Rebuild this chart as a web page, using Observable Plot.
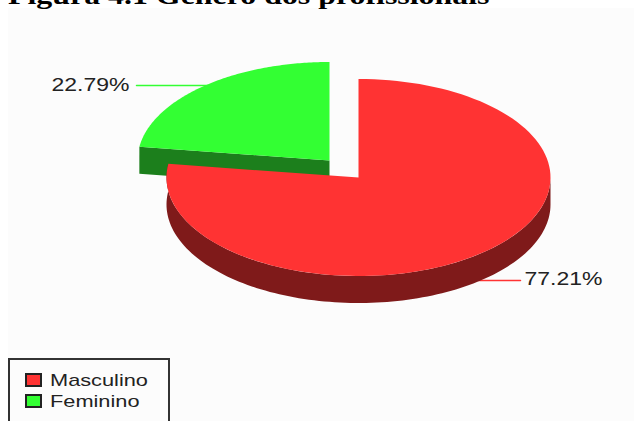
<!DOCTYPE html>
<html lang="pt">
<head>
<meta charset="utf-8">
<title>Gênero dos profissionais</title>
<script src="https://cdn.jsdelivr.net/npm/d3@7"></script>
<script src="https://cdn.jsdelivr.net/npm/@observablehq/plot@0.6"></script>
<style>
  html, body { margin: 0; padding: 0; width: 634px; height: 421px; overflow: hidden; background: #fff; }
  #title { position: absolute; left: 8px; top: -19px; margin: 0; white-space: nowrap;
           font: bold 25px/30px "Liberation Serif", serif; color: #000;
           transform: scaleX(1.275); transform-origin: left top; }
  #chart { position: absolute; left: 8px; top: 8px; width: 626px; height: 413px; background: #fcfcfc; }
  #legend { position: absolute; left: 8px; top: 358px; width: 158px; height: 70px; border: 2px solid #333;
            background: #fcfcfc; font: 17px "Liberation Sans", sans-serif; color: #222; }
  #legend div { position: absolute; left: 15px; white-space: nowrap; line-height: 20px; }
  #legend i { display: inline-block; width: 13px; height: 10px; border: 2px solid #222; margin-right: 8px; vertical-align: -1px; }
  #legend span { display: inline-block; transform: scaleX(1.28); transform-origin: left center; }
</style>
</head>
<body>
<div id="chart"></div>
<h1 id="title"></h1>
<div id="legend"></div>
<script>
const titleText = "Figura 4.1 Gênero dos profissionais";
const categories = ["Masculino", "Feminino"];
const shares = [77.21, 22.79];
const topColors = ["#ff3333", "#33ff33"];
const wallColors = ["#7f1a1a", "#1c7f1c"];
const shareLabels = ["77.21%", "22.79%"];

// Pie geometry, in plot pixels relative to the chart panel.
const W = 626, H = 413;
const rx = 192, ry = 98.5, depth = 27;
const center = [350, 169];
const explode = [-29, -17];   // offset of the pulled-out slice

// Slices run clockwise from twelve o'clock.
const angles = d3.cumsum(shares).map(v => v / 100 * 2 * Math.PI);
const starts = [0, angles[0]];
const ends = [angles[0], 2 * Math.PI];
const origins = [center, [center[0] + explode[0], center[1] + explode[1]]];

const rim = (i, a, dy = 0) => ({
  x: origins[i][0] + rx * Math.sin(a),
  y: origins[i][1] - ry * Math.cos(a) + dy
});
const arc = (i, a0, a1, dy = 0) => d3.range(0, 121).map(k => rim(i, a0 + (a1 - a0) * k / 120, dy));

const topFace = i => [{x: origins[i][0], y: origins[i][1]}, ...arc(i, starts[i], ends[i])];
// The outer wall shows on the lower half of the rim.
const outerWall = i => {
  const a0 = Math.max(starts[i], Math.PI / 2), a1 = Math.min(ends[i], 3 * Math.PI / 2 + 0.15);
  return [...arc(i, a0, a1), ...arc(i, a0, a1, depth).reverse()];
};
// Radial wall of the pulled-out slice, facing the viewer.
const cutWall = i => {
  const o = {x: origins[i][0], y: origins[i][1]};
  const p = rim(i, starts[i]);
  return [o, p, {x: p.x, y: p.y + depth}, {x: o.x, y: o.y + depth}];
};

const poly = (pts, fill) => Plot.line([...pts, pts[0]], {x: "x", y: "y", fill, stroke: "none", curve: "linear"});

// Leader lines run from the label towards the slice rim.
const leaderGreen = [{x: 128, y: 77}, {x: 200, y: 77}];
const leaderRed = [{x: 470, y: 272}, {x: 512, y: 272}];

const plot = Plot.plot({
  width: W, height: H,
  margin: 0,
  style: {background: "transparent", overflow: "visible"},
  x: {domain: [0, W], range: [0, W], axis: null},
  y: {domain: [0, H], range: [0, H], axis: null},
  marks: [
    Plot.line(leaderGreen, {x: "x", y: "y", stroke: topColors[1], strokeWidth: 1.5}),
    Plot.line(leaderRed, {x: "x", y: "y", stroke: topColors[0], strokeWidth: 1.5}),
    poly(cutWall(1), wallColors[1]),
    poly(topFace(1), topColors[1]),
    poly(outerWall(0), wallColors[0]),
    poly(topFace(0), topColors[0]),
    Plot.text([shareLabels[1]], {x: [121], y: [77], text: d => d, textAnchor: "end", fontSize: 18, fontFamily: "Liberation Sans", fill: "#222"}),
    Plot.text([shareLabels[0]], {x: [516], y: [271], text: d => d, textAnchor: "start", fontSize: 18, fontFamily: "Liberation Sans", fill: "#222"})
  ]
});
// The labels are set a little wider than the font's natural width.
d3.select(plot).selectAll("text").attr("textLength", 78).attr("lengthAdjust", "spacingAndGlyphs");
document.getElementById("chart").append(plot);
document.getElementById("title").textContent = titleText;

const legend = d3.select("#legend");
categories.forEach((c, i) => {
  const row = legend.append("div").style("top", `${11 + i * 21}px`);
  row.append("i").style("background", topColors[i]);
  row.append("span").text(c);
});
</script>
</body>
</html>
